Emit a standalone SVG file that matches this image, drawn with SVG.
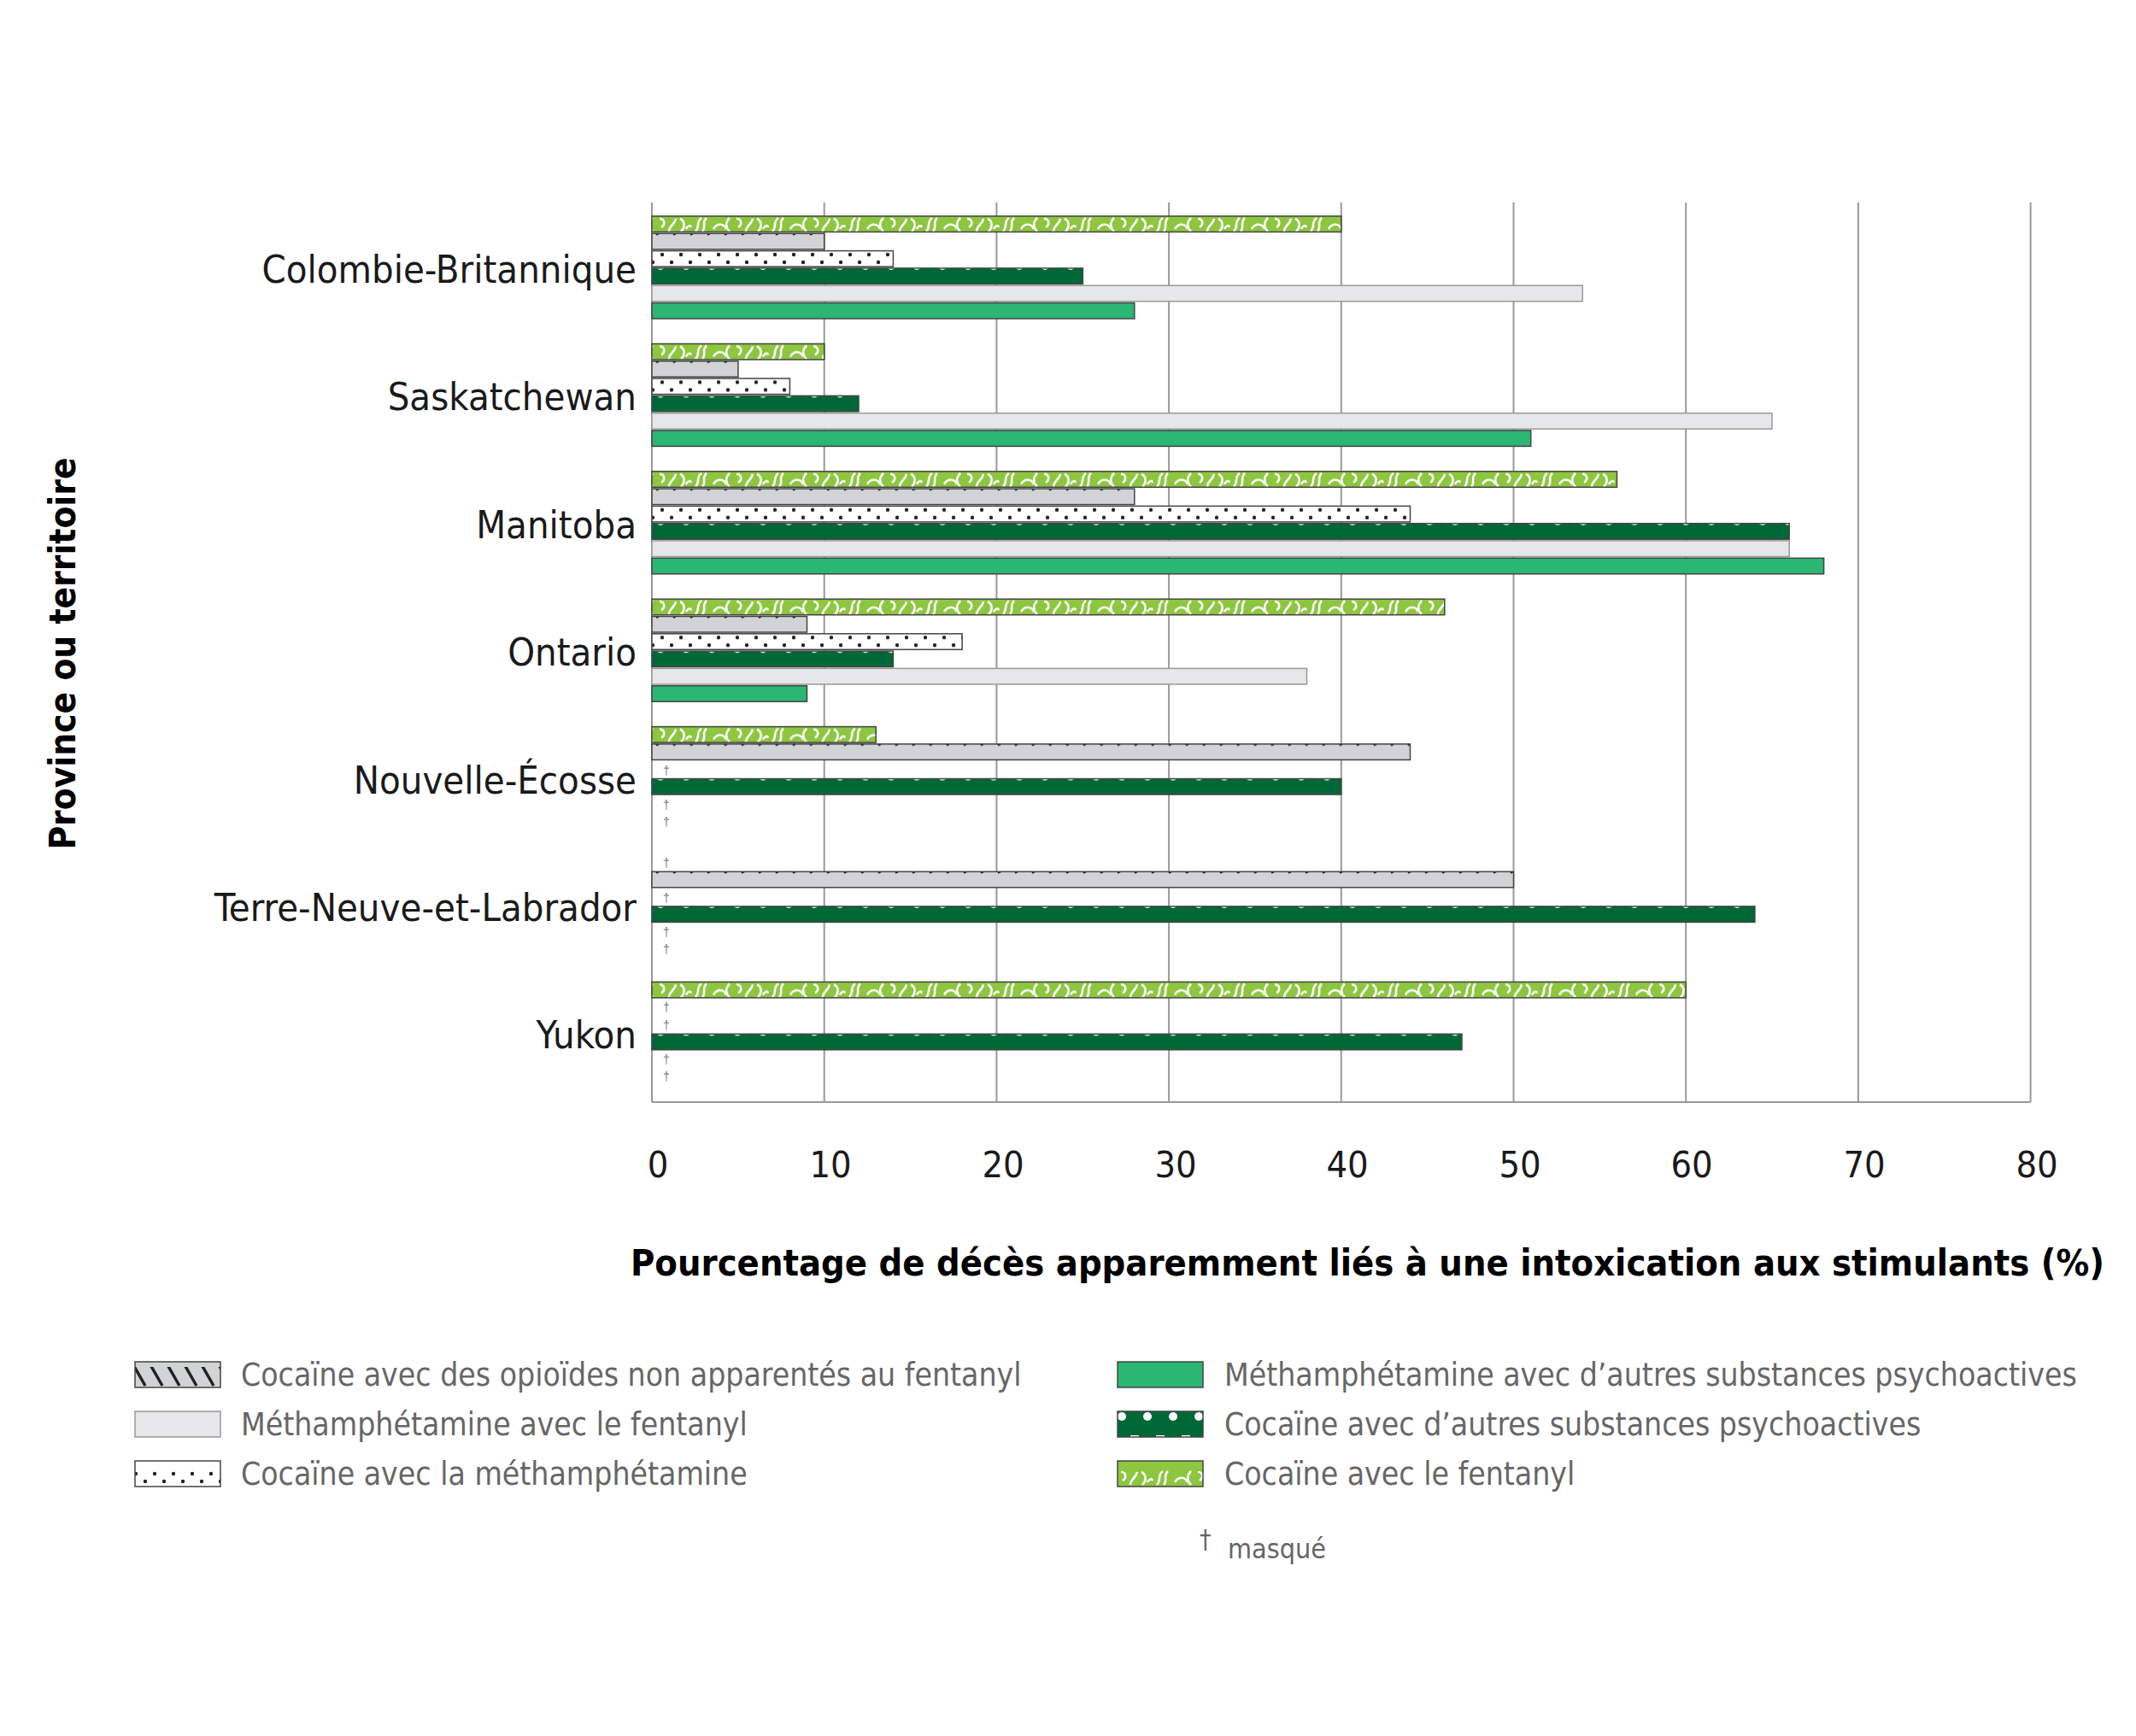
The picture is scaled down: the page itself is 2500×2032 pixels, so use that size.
<svg xmlns="http://www.w3.org/2000/svg" width="2500" height="2032" viewBox="0 0 2500 2032">
<defs>
<style>
.lbl{font-family:"DejaVu Sans Condensed","Liberation Sans",sans-serif;font-size:45px;fill:#1a1a1a}
.tick{font-family:"DejaVu Sans Condensed","Liberation Sans",sans-serif;font-size:43px;fill:#1a1a1a;text-anchor:middle}
.ttl{font-family:"DejaVu Sans Condensed","Liberation Sans",sans-serif;font-size:42px;font-weight:bold;fill:#000}
.leg{font-family:"DejaVu Sans Condensed","Liberation Sans",sans-serif;font-size:37px;fill:#666}
.dag{font-family:"Liberation Sans",sans-serif;font-size:14px;fill:#777}
.grid{stroke:#999;stroke-width:2}
.bar{stroke:#444;stroke-width:1.5}
.b0{fill:url(#swirl)}.b1{fill:url(#hatch)}.b2{fill:url(#dots)}.b3{fill:url(#polka)}.b4{fill:#e6e7e8;stroke:#999}.b5{fill:#2bb673}
</style>
<pattern id="swirl" patternUnits="userSpaceOnUse" width="90" height="40">
<rect width="90" height="40" fill="#8dc63f"/>
<path d="M4 18c6-7 0-11 7-16M17 2c-6 5 0 11-5 16M25 15c4-7 12-7 15 0M44 2c-5 5-5 11 0 16M52 3c6 0 7 7 2 10M63 18c0-7 7-8 8-15M76 3c6 3 6 10 1 15M83 15c2-4 5-5 6-2" fill="none" stroke="#fff" stroke-width="2.6"/>
</pattern>
<pattern id="hatch" patternUnits="userSpaceOnUse" width="20" height="40">
<rect width="20" height="40" fill="#d1d3d4"/>
<path d="M-6 -6L10 22M14 -6L30 22" stroke="#222" stroke-width="3.5"/>
</pattern>
<pattern id="dots" patternUnits="userSpaceOnUse" width="22" height="40">
<rect width="22" height="40" fill="#fff"/>
<circle cx="5" cy="5" r="2.2" fill="#222"/><circle cx="16" cy="14" r="2.2" fill="#222"/>
</pattern>
<pattern id="polka" patternUnits="userSpaceOnUse" width="30" height="40">
<rect width="30" height="40" fill="#006837"/>
<circle cx="8" cy="1" r="5" fill="#fff"/><circle cx="23" cy="18" r="5" fill="#fff"/>
</pattern>
</defs>
<rect width="2500" height="2032" fill="#fff"/>
<g id="grid">
<line class="grid" x1="763" y1="237" x2="763" y2="1290"/>
<line class="grid" x1="964.7" y1="237" x2="964.7" y2="1290"/>
<line class="grid" x1="1166.4" y1="237" x2="1166.4" y2="1290"/>
<line class="grid" x1="1368.1" y1="237" x2="1368.1" y2="1290"/>
<line class="grid" x1="1569.8" y1="237" x2="1569.8" y2="1290"/>
<line class="grid" x1="1771.5" y1="237" x2="1771.5" y2="1290"/>
<line class="grid" x1="1973.2" y1="237" x2="1973.2" y2="1290"/>
<line class="grid" x1="2174.9" y1="237" x2="2174.9" y2="1290"/>
<line class="grid" x1="2376.6" y1="237" x2="2376.6" y2="1290"/>
<line class="grid" x1="763" y1="1290" x2="2376.6" y2="1290"/>
</g>
<g id="ticks">
<text class="tick" x="770" y="1378">0</text><text class="tick" x="972" y="1378">10</text><text class="tick" x="1174" y="1378">20</text><text class="tick" x="1376" y="1378">30</text><text class="tick" x="1577" y="1378">40</text><text class="tick" x="1779" y="1378">50</text><text class="tick" x="1980" y="1378">60</text><text class="tick" x="2182" y="1378">70</text><text class="tick" x="2384" y="1378">80</text>
</g>
<g id="bc" transform="translate(0,253)">
<text class="lbl" x="745" y="78" text-anchor="end">Colombie-Britannique</text>
<rect class="bar b0" x="763" y="0" width="806.8" height="18.5"/>
<rect class="bar b1" x="763" y="20.3" width="201.7" height="18.5"/>
<rect class="bar b2" x="763" y="40.6" width="282.4" height="18.5"/>
<rect class="bar b3" x="763" y="60.9" width="504.3" height="18.5"/>
<rect class="bar b4" x="763" y="81.2" width="1089.2" height="18.5"/>
<rect class="bar b5" x="763" y="101.5" width="564.8" height="18.5"/>
</g>
<g id="sask" transform="translate(0,402.4)">
<text class="lbl" x="745" y="78" text-anchor="end">Saskatchewan</text>
<rect class="bar b0" x="763" y="0" width="201.7" height="18.5"/>
<rect class="bar b1" x="763" y="20.3" width="100.9" height="18.5"/>
<rect class="bar b2" x="763" y="40.6" width="161.4" height="18.5"/>
<rect class="bar b3" x="763" y="60.9" width="242" height="18.5"/>
<rect class="bar b4" x="763" y="81.2" width="1311" height="18.5"/>
<rect class="bar b5" x="763" y="101.5" width="1028.7" height="18.5"/>
</g>
<g id="manitoba" transform="translate(0,551.8)">
<text class="lbl" x="745" y="78" text-anchor="end">Manitoba</text>
<rect class="bar b0" x="763" y="0" width="1129.5" height="18.5"/>
<rect class="bar b1" x="763" y="20.3" width="564.8" height="18.5"/>
<rect class="bar b2" x="763" y="40.6" width="887.5" height="18.5"/>
<rect class="bar b3" x="763" y="60.9" width="1331.2" height="18.5"/>
<rect class="bar b4" x="763" y="81.2" width="1331.2" height="18.5"/>
<rect class="bar b5" x="763" y="101.5" width="1371.6" height="18.5"/>
</g>
<g id="ontario" transform="translate(0,701.2)">
<text class="lbl" x="745" y="78" text-anchor="end">Ontario</text>
<rect class="bar b0" x="763" y="0" width="927.8" height="18.5"/>
<rect class="bar b1" x="763" y="20.3" width="181.5" height="18.5"/>
<rect class="bar b2" x="763" y="40.6" width="363.1" height="18.5"/>
<rect class="bar b3" x="763" y="60.9" width="282.4" height="18.5"/>
<rect class="bar b4" x="763" y="81.2" width="766.5" height="18.5"/>
<rect class="bar b5" x="763" y="101.5" width="181.5" height="18.5"/>
</g>
<g id="ns" transform="translate(0,850.6)">
<text class="lbl" x="745" y="78" text-anchor="end">Nouvelle-Écosse</text>
<rect class="bar b0" x="763" y="0" width="262.2" height="18.5"/>
<rect class="bar b1" x="763" y="20.3" width="887.5" height="18.5"/>
<text class="dag" x="776" y="56">†</text>
<rect class="bar b3" x="763" y="60.9" width="806.8" height="18.5"/>
<text class="dag" x="776" y="96">†</text>
<text class="dag" x="776" y="116">†</text>
</g>
<g id="tnl" transform="translate(0,1000)">
<text class="lbl" x="745" y="78" text-anchor="end">Terre-Neuve-et-Labrador</text>
<text class="dag" x="776" y="15">†</text>
<rect class="bar b1" x="763" y="20.3" width="1008.5" height="18.5"/>
<text class="dag" x="776" y="56">†</text>
<rect class="bar b3" x="763" y="60.9" width="1290.9" height="18.5"/>
<text class="dag" x="776" y="96">†</text>
<text class="dag" x="776" y="116">†</text>
</g>
<g id="yukon" transform="translate(0,1149.4)">
<text class="lbl" x="745" y="78" text-anchor="end">Yukon</text>
<rect class="bar b0" x="763" y="0" width="1210.2" height="18.5"/>
<text class="dag" x="776" y="35">†</text>
<text class="dag" x="776" y="56">†</text>
<rect class="bar b3" x="763" y="60.9" width="948" height="18.5"/>
<text class="dag" x="776" y="96">†</text>
<text class="dag" x="776" y="116">†</text>
</g>
<g id="titles">
<text class="ttl" x="2463" y="1493" text-anchor="end" textLength="1725" lengthAdjust="spacingAndGlyphs">Pourcentage de décès apparemment liés à une intoxication aux stimulants  (%)</text>
<text class="ttl" transform="translate(88,765) rotate(-90)" text-anchor="middle">Province ou territoire</text>
</g>
<g id="legend">
<rect class="bar b1" x="158" y="1594" width="100" height="30"/>
<text class="leg" x="282" y="1622">Cocaïne avec des opioïdes non apparentés au fentanyl</text>
<rect class="bar b4" x="158" y="1652" width="100" height="30"/>
<text class="leg" x="282" y="1680">Méthamphétamine avec le fentanyl</text>
<rect class="bar b2" x="158" y="1710" width="100" height="30"/>
<text class="leg" x="282" y="1738">Cocaïne avec la méthamphétamine</text>
<rect class="bar b5" x="1308" y="1594" width="100" height="30"/>
<text class="leg" x="1433" y="1622">Méthamphétamine avec d’autres substances psychoactives</text>
<rect class="bar b3" x="1308" y="1652" width="100" height="30"/>
<text class="leg" x="1433" y="1680">Cocaïne avec d’autres substances psychoactives</text>
<rect class="bar b0" x="1308" y="1710" width="100" height="30"/>
<text class="leg" x="1433" y="1738">Cocaïne avec le fentanyl</text>
<text class="leg" x="1404" y="1812" style="font-size:30px">†</text>
<text class="leg" x="1437" y="1824" style="font-size:32px">masqué</text>
</g>
</svg>
